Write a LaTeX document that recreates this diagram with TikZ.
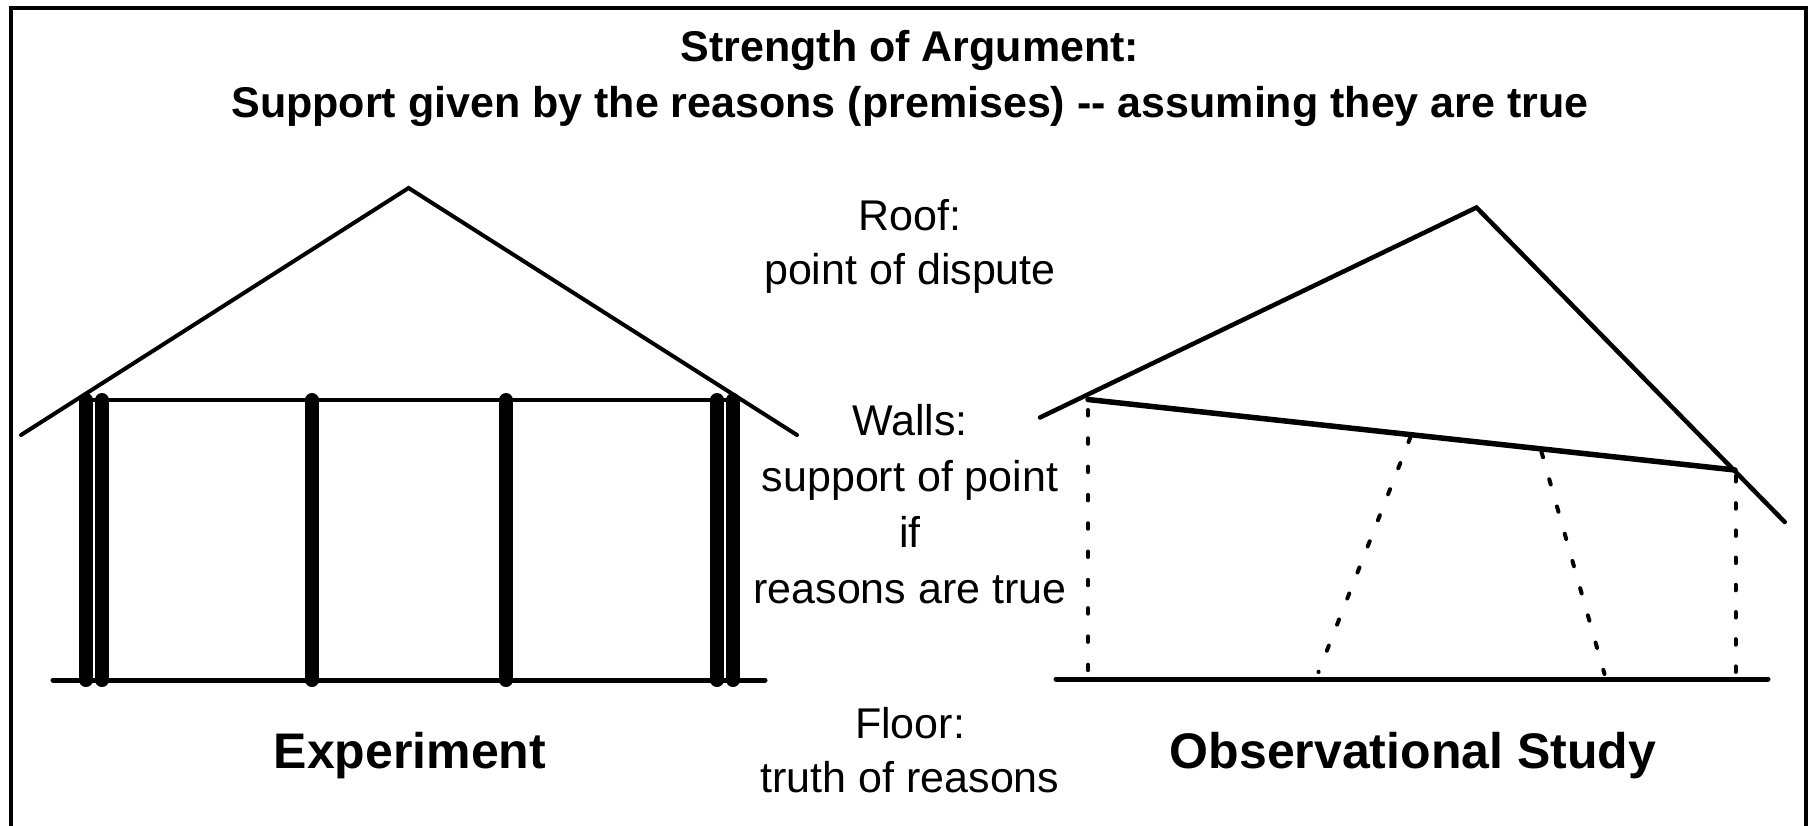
\documentclass[tikz,border=0pt]{standalone}
\usepackage{fontspec}
\setmainfont{Liberation Sans}
\begin{document}
\begin{tikzpicture}[x=1pt,y=-1pt,
  thinline/.style={line width=4pt,line cap=round,line join=miter},
  post/.style={line width=14pt,line cap=round},
  dotline/.style={line width=4pt,line cap=round,dash pattern=on 5.5pt off 22.8pt},
  txt/.style={inner sep=0pt,anchor=base,font=\fontsize{43}{50}\selectfont},
  ttl/.style={inner sep=0pt,anchor=base,font=\fontsize{43}{50}\selectfont\bfseries},
  lbl/.style={inner sep=0pt,anchor=base,font=\fontsize{50}{58}\selectfont\bfseries}]
\useasboundingbox (0,0) rectangle (1810,825);
% frame
\draw[line width=4pt] (11,830) -- (11,8) -- (1806,8) -- (1806,830);
% title
\node[ttl] (t1) at (910,61) {Strength of Argument:};
\node[ttl] (t2) at (910,117) {Support given by the reasons (premises) -{}- assuming they are true};
% centre texts
\node[txt] (roof) at (910,230) {Roof:};
\node[txt] (roof2) at (910,284) {point of dispute};
\node[txt] (walls) at (910,435) {Walls:};
\node[txt] (walls2) at (910,491) {support of point};
\node[txt] (walls3) at (910,547) {if};
\node[txt] (walls4) at (910,603) {reasons are true};
\node[txt] (floor) at (910,738) {Floor:};
\node[txt] (floor2) at (910,792) {truth of reasons};
\node[lbl] (exp) at (410,768) {Experiment};
\node[lbl] (obs) at (1413,768) {Observational Study};
% left house
\coordinate (lr1) at (21,435);
\coordinate (lr2) at (408.6,188);
\coordinate (lr3) at (797,435);
\draw[thinline] (lr1) -- (lr2) -- (lr3);
\draw[thinline] (86,400) -- (733,400);
\draw[line width=5pt,line cap=round] (53,680) -- (765,680);
\foreach \px in {86,102,312,506,717,733}
  \draw[post] (\px,400) -- (\px,680);
% right house
\coordinate (rr1) at (1040,417.5);
\coordinate (rr2) at (1476.5,207.5);
\coordinate (rr3) at (1784.7,522);
\draw[line width=4.5pt,line cap=round] (rr1) -- (rr2) -- (rr3);
\coordinate (c1) at (1088,399.5);
\coordinate (c2) at (1735,470);
\draw[line width=5.5pt,line cap=round] (c1) -- (c2);
\draw[line width=5pt,line cap=round] (1056,679) -- (1768,679);
\draw[dotline] (1088,410) -- (1088,672);
\draw[dotline,dash pattern=on 5.5pt off 22.5pt] (1410.5,437) -- (1318.5,672);
\draw[dotline] (1541.5,452) -- (1604.5,674);
\draw[dotline,dash pattern=on 5.5pt off 21.7pt] (1735.5,476) -- (1735.5,672);
\end{tikzpicture}
\end{document}
